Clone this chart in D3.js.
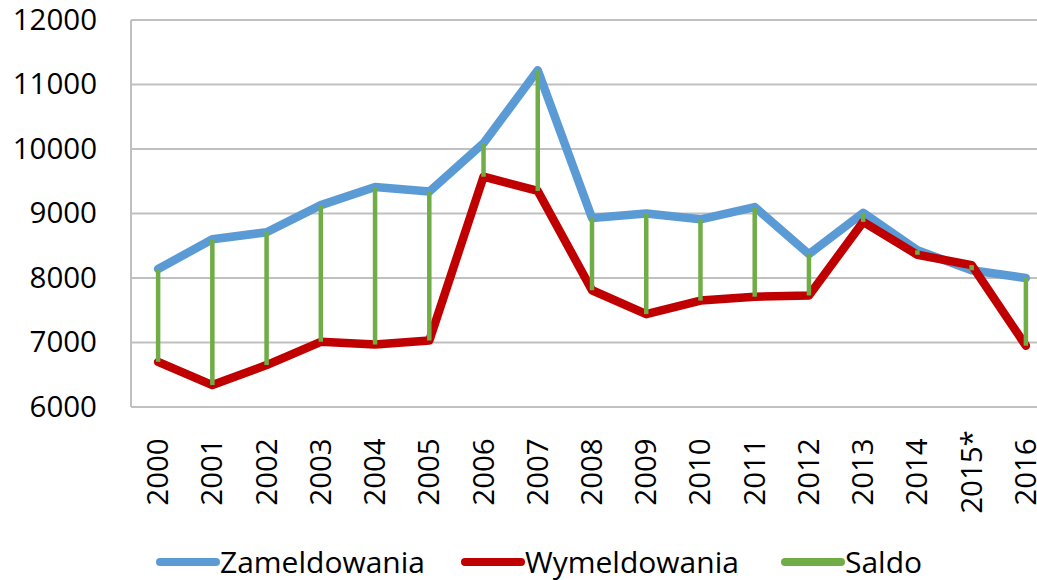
<!DOCTYPE html>
<html>
<head>
<meta charset="utf-8">
<script src="https://cdn.jsdelivr.net/npm/d3@7"></script>
<style>
  body { margin: 0; background: #fff; }
  svg { display: block; font-family: 'Open Sans', sans-serif; }
</style>
</head>
<body>
<svg id="canvas"></svg>
<script>
let years = ['2000', '2001', '2002', '2003', '2004', '2005', '2006', '2007', '2008',
             '2009', '2010', '2011', '2012', '2013', '2014', '2015*', '2016']
let zameldowania = [8140, 8600, 8710, 9130, 9410, 9340, 10090, 11220, 8930,
                    9000, 8910, 9100, 8370, 9010, 8430, 8120, 8000]
let wymeldowania = [6700, 6340, 6650, 7010, 6970, 7030, 9570, 9350, 7810,
                    7440, 7650, 7710, 7730, 8870, 8360, 8200, 6950]
let yTicks = [6000, 7000, 8000, 9000, 10000, 11000, 12000]

let width = 1037
let height = 580

let plotLeft = 131
let plotRight = 1053
let plotTop = 20
let plotBottom = 407

let svg = d3.select('#canvas')
    .attr('width', width)
    .attr('height', height)

let xScale = d3.scalePoint()
    .domain(years)
    .range([plotLeft, plotRight])
    .padding(0.5)

let yScale = d3.scaleLinear()
    .domain([6000, 12000])
    .range([plotBottom, plotTop])

// gridlines
svg.append('g')
    .selectAll('line')
    .data(yTicks)
    .enter()
    .append('line')
    .attr('x1', plotLeft)
    .attr('x2', width)
    .attr('y1', (d) => yScale(d))
    .attr('y2', (d) => yScale(d))
    .attr('stroke', '#c0c0c0')
    .attr('stroke-width', 2)

svg.append('line')
    .attr('x1', plotLeft)
    .attr('x2', plotLeft)
    .attr('y1', plotTop)
    .attr('y2', plotBottom)
    .attr('stroke', '#c0c0c0')
    .attr('stroke-width', 2)

// y axis labels
let yAxis = d3.axisLeft(yScale)
    .tickValues(yTicks)
    .tickFormat(d3.format('d'))
    .tickSize(0)
    .tickPadding(34)

svg.append('g')
    .attr('transform', 'translate(' + plotLeft + ', 0)')
    .call(yAxis)
    .call((g) => g.select('.domain').remove())
    .selectAll('text')
    .attr('font-family', "'Open Sans', sans-serif")
    .attr('font-size', 29.5)
    .attr('fill', '#000')

// x axis labels, rotated
svg.append('g')
    .selectAll('text')
    .data(years)
    .enter()
    .append('text')
    .attr('transform', (d) => 'translate(' + (xScale(d) + 10) + ', 472) rotate(-90)')
    .attr('text-anchor', 'middle')
    .attr('font-size', 29.5)
    .attr('fill', '#000')
    .text((d) => d)

let line = (values) => d3.line()
    .x((d, i) => xScale(years[i]))
    .y((d) => yScale(d))(values)

svg.append('path')
    .attr('d', line(zameldowania))
    .attr('fill', 'none')
    .attr('stroke', '#5b9bd5')
    .attr('stroke-width', 8.5)
    .attr('stroke-linejoin', 'round')
    .attr('stroke-linecap', 'round')

svg.append('path')
    .attr('d', line(wymeldowania))
    .attr('fill', 'none')
    .attr('stroke', '#c00000')
    .attr('stroke-width', 8.5)
    .attr('stroke-linejoin', 'round')
    .attr('stroke-linecap', 'round')

// saldo high-low lines
svg.append('g')
    .selectAll('line')
    .data(years)
    .enter()
    .append('line')
    .attr('x1', (d) => xScale(d))
    .attr('x2', (d) => xScale(d))
    .attr('y1', (d, i) => yScale(zameldowania[i]))
    .attr('y2', (d, i) => yScale(wymeldowania[i]))
    .attr('stroke', '#70ad47')
    .attr('stroke-width', 4.5)

// legend
let legend = [
    { name: 'Zameldowania', color: '#5b9bd5', x: 160 },
    { name: 'Wymeldowania', color: '#c00000', x: 465 },
    { name: 'Saldo', color: '#70ad47', x: 785 }
]

let items = svg.append('g')
    .selectAll('g')
    .data(legend)
    .enter()
    .append('g')
    .attr('transform', (d) => 'translate(' + d.x + ', 562)')

items.append('line')
    .attr('x1', 0)
    .attr('x2', 56)
    .attr('stroke', (d) => d.color)
    .attr('stroke-width', 8)
    .attr('stroke-linecap', 'round')

items.append('text')
    .attr('x', 60)
    .attr('y', 11)
    .attr('font-size', 30)
    .attr('fill', '#000')
    .text((d) => d.name)
</script>
</body>
</html>
